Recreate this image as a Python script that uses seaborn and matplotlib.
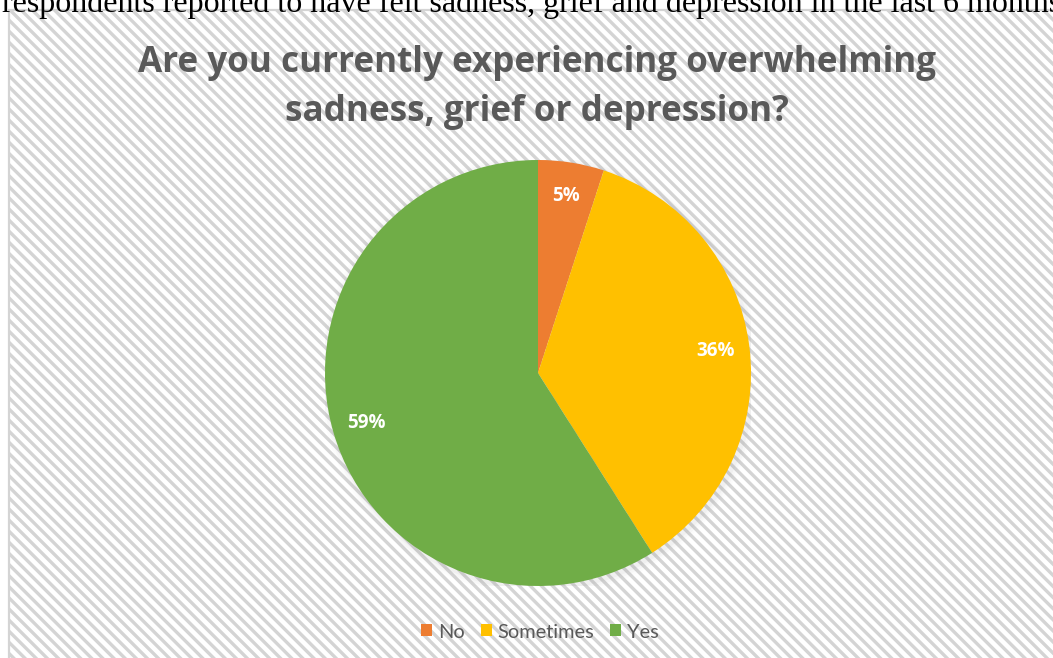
import matplotlib
matplotlib.use("Agg")
import matplotlib.pyplot as plt
from matplotlib.patches import Rectangle, Circle
import seaborn as sns

# Survey responses
categories = ["No", "Sometimes", "Yes"]
shares = [5, 36, 59]
colors = ["#ED7D31", "#FFC000", "#70AD47"]
title_lines = ["Are you currently experiencing overwhelming", "sadness, grief or depression?"]
caption = "respondents reported to have felt sadness, grief and depression in the last 6 months"

sns.set_theme(style="white")
plt.rcParams["font.family"] = ["Lato", "DejaVu Sans"]
plt.rcParams["hatch.linewidth"] = 2.4
plt.rcParams["hatch.color"] = "#F3F3F3"

W, H = 1053, 658
fig = plt.figure(figsize=(W / 100, H / 100), dpi=100)
fig.patch.set_facecolor("white")

# Surrounding body text, clipped at the top edge
fig.text(2 / W, 1 - 12 / H, caption, family="Liberation Serif", fontsize=23.0,
         color="black", ha="left", va="baseline")

# Chart area with light diagonal stripes
frame = Rectangle((9 / W, -0.1), 1.2, 1 - 10 / H + 0.1, transform=fig.transFigure,
                  facecolor="white", edgecolor="#D4D4D4", linewidth=1.6,
                  hatch="\\\\\\", zorder=-5)
fig.patches.append(frame)

for txt, base in zip(title_lines, [72, 121]):
    fig.text(537 / W, 1 - base / H, txt, family=["Open Sans", "DejaVu Sans"],
             fontsize=25.2, fontweight="bold", color="#595959", ha="center", va="baseline")

# Pie
cx, cy, r = 538, 373, 213
ax = fig.add_axes([(cx - r) / W, (H - cy - r) / H, 2 * r / W, 2 * r / H], zorder=2)
ax.set_facecolor("none")
for k, a in enumerate([0.05, 0.035, 0.02]):
    ax.add_patch(Circle((0.01, -0.01), 1 + 0.012 * (k + 1), color="#808080",
                        alpha=a, lw=0, zorder=0))
wedges, texts, autotexts = ax.pie(
    shares, colors=colors, startangle=90, counterclock=False,
    autopct=lambda p: f"{p:.0f}%", pctdistance=0.84,
    wedgeprops=dict(linewidth=0),
    textprops=dict(color="white", fontweight="bold", fontsize=13.5,
                   family=["Open Sans", "DejaVu Sans"]),
)
ax.set_xlim(-1, 1)
ax.set_ylim(-1, 1)
ax.axis("off")

leg = fig.legend(wedges, categories, loc="center", bbox_to_anchor=(540 / W, 1 - 632 / H),
                 ncol=3, frameon=False, fontsize=14.4, handlelength=0.55, handleheight=0.55,
                 handletextpad=0.3, columnspacing=0.8, labelcolor="#595959")

fig.savefig("out.png", dpi=100)
